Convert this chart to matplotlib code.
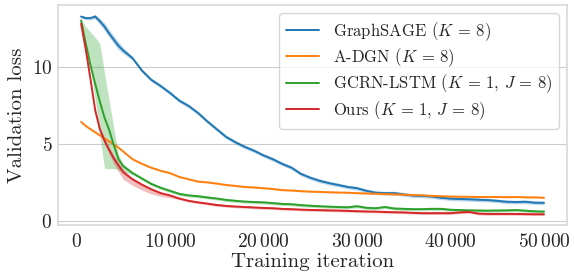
import numpy as np
import matplotlib
matplotlib.use('Agg')
import matplotlib.pyplot as plt
import seaborn as sns
from matplotlib.ticker import FuncFormatter

# validation loss vs training iteration
iters = [500, 1000, 1500, 2000, 2500, 3000, 3500, 4000, 4500, 5000] + list(range(6000, 50001, 1000))

graphsage = [13.25, 13.15, 13.15, 13.25, 12.95, 12.6, 12.15, 11.75, 11.35, 11.05,
             10.55, 9.75, 9.15, 8.75, 8.3, 7.8, 7.45, 7.0, 6.45, 5.95,
             5.45, 5.1, 4.8, 4.55, 4.25, 4.0, 3.7, 3.45, 3.05, 2.8,
             2.6, 2.45, 2.33, 2.2, 2.12, 1.95, 1.83, 1.8, 1.8, 1.72,
             1.64, 1.62, 1.58, 1.5, 1.44, 1.42, 1.4, 1.37, 1.35, 1.3,
             1.24, 1.22, 1.24, 1.18, 1.17]
adgn = [6.42, 6.15, 5.95, 5.75, 5.55, 5.35, 5.15, 4.95, 4.75, 4.5,
        4.0, 3.7, 3.45, 3.25, 3.1, 2.85, 2.7, 2.55, 2.5, 2.42,
        2.33, 2.27, 2.2, 2.17, 2.12, 2.07, 2.0, 1.97, 1.93, 1.9,
        1.88, 1.86, 1.84, 1.83, 1.8, 1.78, 1.76, 1.74, 1.72, 1.7,
        1.68, 1.66, 1.62, 1.6, 1.58, 1.57, 1.56, 1.55, 1.55, 1.55,
        1.54, 1.55, 1.53, 1.53, 1.5]
gcrn = [13.0, 11.5, 10.1, 8.9, 7.75, 6.7, 5.9, 4.9, 4.0, 3.55,
        3.1, 2.75, 2.4, 2.15, 1.95, 1.75, 1.65, 1.6, 1.52, 1.45,
        1.36, 1.3, 1.25, 1.22, 1.2, 1.15, 1.1, 1.08, 1.02, 0.98,
        0.95, 0.92, 0.9, 0.88, 0.95, 0.85, 0.82, 0.9, 0.8, 0.78,
        0.76, 0.76, 0.78, 0.78, 0.72, 0.7, 0.68, 0.67, 0.66, 0.67,
        0.68, 0.7, 0.66, 0.62, 0.6]
ours = [12.78, 11.1, 9.2, 7.2, 5.95, 5.2, 4.6, 4.05, 3.6, 3.15,
        2.7, 2.35, 2.05, 1.8, 1.65, 1.45, 1.3, 1.2, 1.12, 1.03,
        0.97, 0.93, 0.9, 0.87, 0.84, 0.82, 0.78, 0.76, 0.73, 0.71,
        0.7, 0.68, 0.67, 0.65, 0.63, 0.61, 0.6, 0.58, 0.56, 0.55,
        0.52, 0.5, 0.5, 0.5, 0.5, 0.55, 0.58, 0.47, 0.45, 0.45,
        0.45, 0.45, 0.44, 0.43, 0.43]

# spread below / above the mean curve
graphsage_lo = [0.1, 0.1, 0.1, 0.15, 0.2, 0.25, 0.25, 0.25, 0.25, 0.2] + [0.12] * 45
graphsage_hi = graphsage_lo
adgn_lo = [0.05] * 55
adgn_hi = adgn_lo
gcrn_lo = [0.0, 0.1, 0.2, 1.0, 2.15, 3.3, 2.5, 1.5, 0.7, 0.35] + [0.1] * 45
gcrn_hi = [0.05, 1.1, 2.15, 3.0, 3.75, 2.9, 1.9, 1.1, 0.3, 0.15] + [0.1] * 45
ours_lo = [0.05, 0.1, 0.1, 0.1, 0.15, 0.2, 0.25, 0.35, 0.4, 0.45,
           0.4, 0.35, 0.3, 0.2, 0.15] + [0.08] * 40
ours_hi = [0.1, 0.1, 0.1, 0.1, 0.15, 0.2, 0.2, 0.2, 0.2, 0.2] + [0.08] * 45

labels = [r'GraphSAGE ($K$ = 8)', r'A-DGN ($K$ = 8)',
          r'GCRN-LSTM ($K$ = 1, $J$ = 8)', r'Ours ($K$ = 1, $J$ = 8)']

sns.set_style('whitegrid')
plt.rcParams['font.family'] = ['cmr10', 'DejaVu Serif']
plt.rcParams['mathtext.fontset'] = 'cm'
plt.rcParams['axes.formatter.use_mathtext'] = True
plt.rcParams['axes.unicode_minus'] = False

fig, ax = plt.subplots(figsize=(5.74, 2.78), dpi=100)
fig.subplots_adjust(left=0.101, right=0.988, bottom=0.191, top=0.982)

x = np.array(iters)
series = [(graphsage, graphsage_lo, graphsage_hi),
          (adgn, adgn_lo, adgn_hi),
          (gcrn, gcrn_lo, gcrn_hi),
          (ours, ours_lo, ours_hi)]
for i, (y, lo, hi) in enumerate(series):
  y = np.array(y)
  c = 'C%d' % i
  ax.fill_between(x, y - np.array(lo), y + np.array(hi), color=c, alpha=0.3, linewidth=0)
  ax.plot(x, y, color=c, linewidth=1.4, label=labels[i])

ax.set_ylim(-0.26, 14.0)
ax.set_yticks([0, 5, 10])
ax.set_xticks([0, 10000, 20000, 30000, 40000, 50000])


def thin_fmt(v, pos):
  s = '{:,}'.format(int(round(v)))
  return '$' + s.replace(',', r'\,') + '$'


ax.xaxis.set_major_formatter(FuncFormatter(thin_fmt))
ax.yaxis.set_major_formatter(FuncFormatter(lambda v, p: '$%d$' % v))
ax.xaxis.grid(False)
ax.tick_params(axis='x', which='major', length=4, color='0.3', labelsize=14, pad=2)
ax.tick_params(axis='y', labelsize=14, length=0, pad=4)
for sp in ax.spines.values():
  sp.set_color('0.85')
  sp.set_linewidth(1.2)

ax.set_xlabel('Training iteration', fontsize=15, labelpad=1)
ax.set_ylabel('Validation loss', fontsize=15, labelpad=4)

ax.legend(loc='upper right', fontsize=12, frameon=True, borderaxespad=0.5,
          handlelength=2.0, labelspacing=0.22)

fig.savefig('out.png', dpi=100)
